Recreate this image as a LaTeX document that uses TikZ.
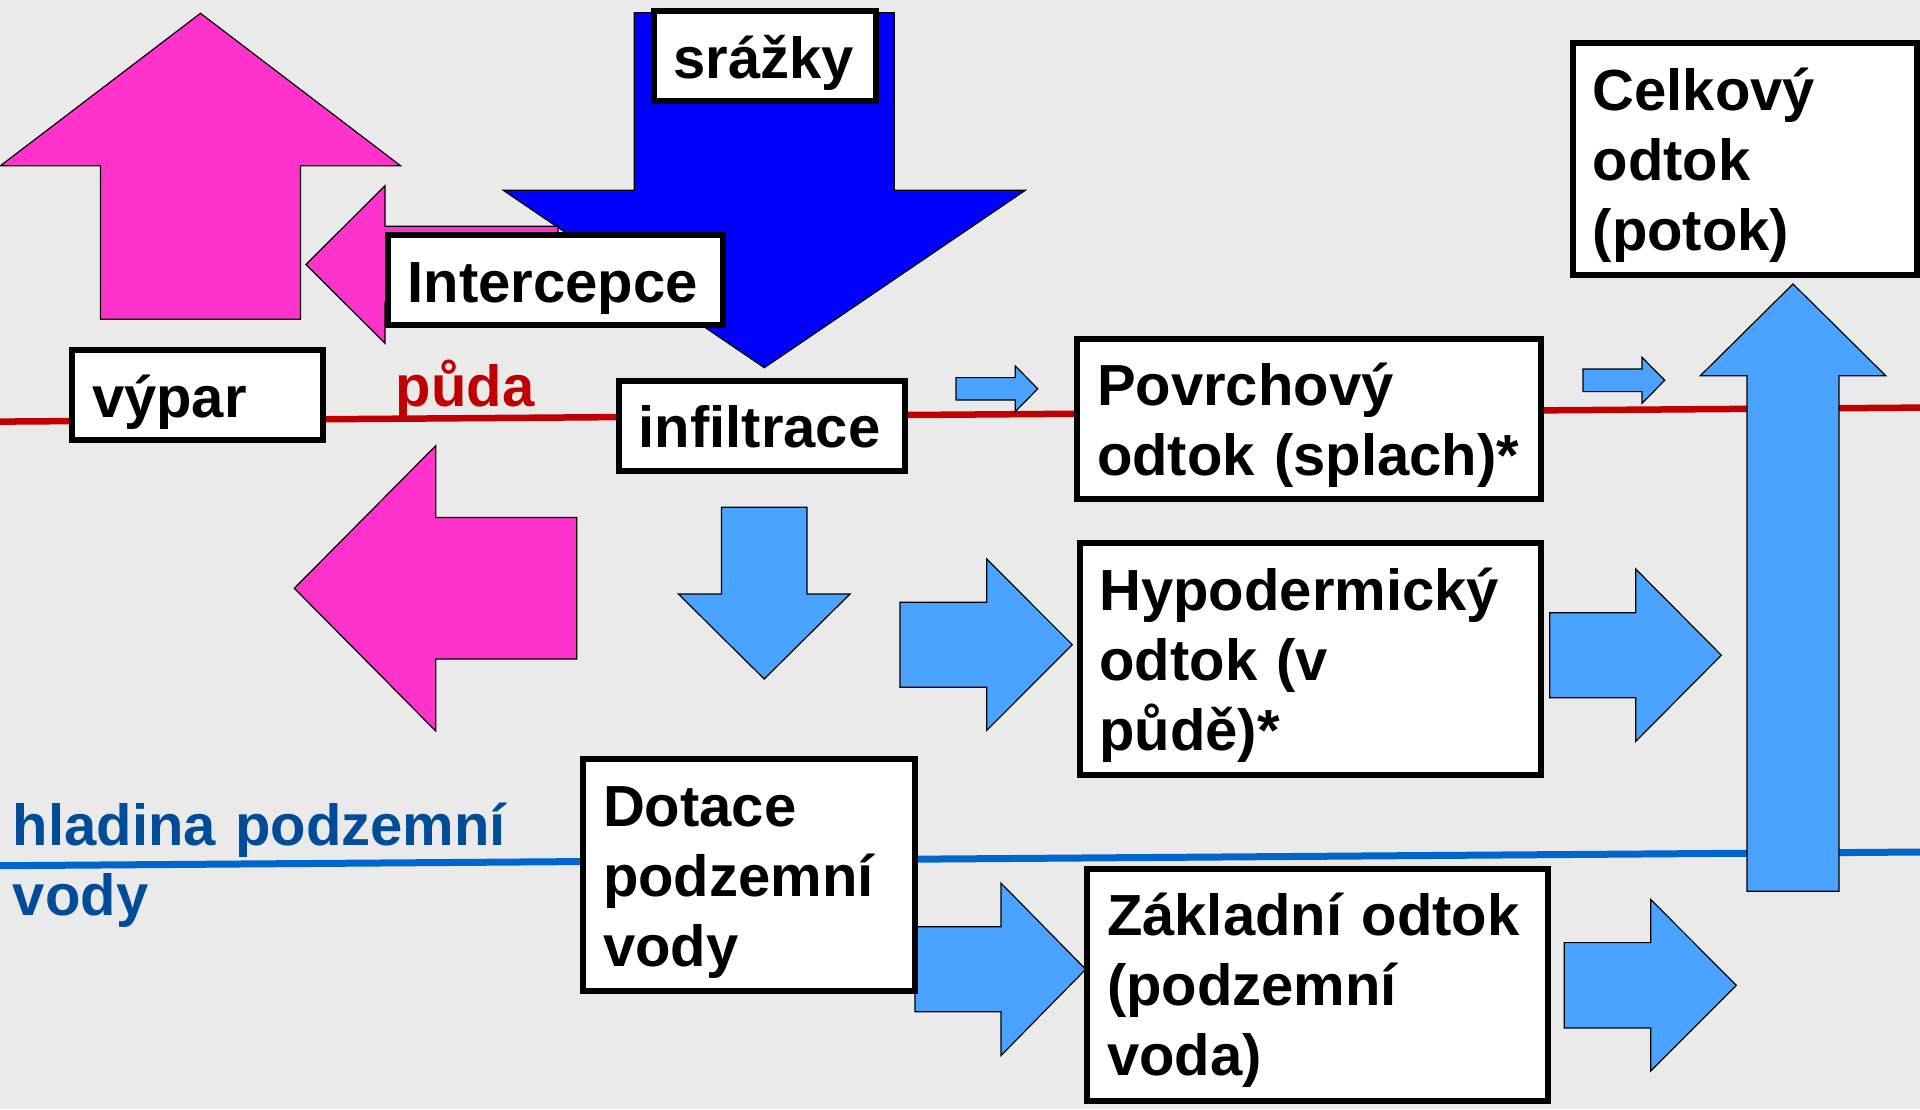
\documentclass[tikz,border=0pt]{standalone}
\usepackage{fontspec}
\setmainfont{Liberation Sans}[Ligatures=NoCommon]
\usepackage{xcolor}
\usepackage{tikz}

\definecolor{bggray}{HTML}{EAEAEA}
\definecolor{evapink}{HTML}{FF33CC}
\definecolor{rainblue}{HTML}{0000FF}
\definecolor{flowblue}{HTML}{4AA3FF}
\definecolor{soilred}{HTML}{C00000}
\definecolor{gwline}{HTML}{0066CC}
\definecolor{gwtext}{HTML}{004C99}

\begin{document}
\begin{tikzpicture}[
    x=0.5pt, y=-0.5pt,
    txtbox/.style={rectangle, draw=black, fill=white, line width=3pt, anchor=north west, inner xsep=9.85pt, inner ysep=0pt, align=left, text height=33.5pt, font=\fontsize{29}{35}\selectfont\bfseries},
    oneline/.style={txtbox, text depth=11.5pt},
    twoline/.style={txtbox, text depth=46.6pt},
    threeline/.style={txtbox, text depth=82.5pt},
    pinkarrow/.style={draw=black, line width=0.6pt, fill=evapink},
    rainarrow/.style={draw=black, line width=0.6pt, fill=rainblue},
    flowarrow/.style={draw=black, line width=0.6pt, fill=flowblue},
    levellabel/.style={anchor=base west, inner sep=0pt, align=left, font=\fontsize{29}{35}\selectfont\bfseries}
]

% Background
\useasboundingbox (0,0) rectangle (1920,1109);
\fill[bggray] (0,0) rectangle (1920,1109);

% Soil surface and groundwater table
\coordinate (soilW) at (0,421.6);
\coordinate (soilE) at (1920,407.6);
\coordinate (gwW) at (0,865.7);
\coordinate (gwE) at (1920,852);
\draw[soilred, line width=3.25pt] (soilW) -- (soilE);
\draw[gwline, line width=3.5pt] (gwW) -- (gwE);

% Precipitation
\draw[rainarrow] (634.3,12.7) -- (894.3,12.7) -- (894.3,190.3) -- (1025.3,190.3) -- (764.3,367.7) -- (503.3,190.3) -- (634.3,190.3) -- cycle;

% Evaporation
\draw[pinkarrow] (100.5,319.3) -- (100.5,165.7) -- (0.5,165.7) -- (200.5,13.3) -- (400.5,165.7) -- (300.5,165.7) -- (300.5,319.3) -- cycle;
\draw[pinkarrow] (558,226.3) -- (385,226.3) -- (385,185.7) -- (306,264.5) -- (385,343.3) -- (385,302.7) -- (558,302.7) -- cycle;
\draw[pinkarrow] (576.7,517.5) -- (435.7,517.5) -- (435.7,445.7) -- (294.3,588.3) -- (435.7,731) -- (435.7,659) -- (576.7,659) -- cycle;

% Runoff components
\draw[flowarrow] (721.4,507.3) -- (807,507.3) -- (807,594) -- (850,594) -- (764.2,679) -- (678.4,594) -- (721.4,594) -- cycle;
\draw[flowarrow] (956,377.6) -- (1015.3,377.6) -- (1015.3,366) -- (1037.7,388.8) -- (1015.3,411.6) -- (1015.3,400) -- (956,400) -- cycle;
\draw[flowarrow] (1583,369) -- (1642,369) -- (1642,357.3) -- (1664.7,380.3) -- (1642,403.3) -- (1642,391.6) -- (1583,391.6) -- cycle;
\draw[flowarrow] (900,602.2) -- (986.7,602.2) -- (986.7,559) -- (1072.3,644.7) -- (986.7,730.4) -- (986.7,687.2) -- (900,687.2) -- cycle;
\draw[flowarrow] (915,926.8) -- (1001,926.8) -- (1001,883.1) -- (1085.7,969.3) -- (1001,1055.5) -- (1001,1011.8) -- (915,1011.8) -- cycle;
\draw[flowarrow] (1549.7,612.7) -- (1635.7,612.7) -- (1635.7,569) -- (1721.3,655.2) -- (1635.7,741.4) -- (1635.7,697.7) -- (1549.7,697.7) -- cycle;
\draw[flowarrow] (1564.3,942.6) -- (1650.7,942.6) -- (1650.7,899.5) -- (1736.3,985.3) -- (1650.7,1071.1) -- (1650.7,1028) -- (1564.3,1028) -- cycle;
\draw[flowarrow] (1747,891.3) -- (1747,375.7) -- (1700.3,375.7) -- (1793,284) -- (1885.7,375.7) -- (1839,375.7) -- (1839,891.3) -- cycle;

% Boxes
\node[oneline, text width=91.45pt] (srazky) at (650.7,8) {srážky};
\node[oneline, text width=147.8pt] (intercepce) at (385,232.3) {Intercepce};
\node[oneline, text width=105.65pt] (vypar) at (69.3,347.3) {výpar};
\node[oneline, text width=123.45pt] (infiltrace) at (616,377.7) {infiltrace};
\node[twoline, text width=212pt] (povrch) at (1074.3,335.7) {Povrchový\\odtok (splach)*};
\node[threeline, text width=210.8pt] (hypo) at (1076.7,540) {Hypodermický\\odtok (v\\půdě)*};
\node[threeline, text width=145.9pt] (dotace) at (580.3,756) {Dotace\\podzemní\\vody};
\node[threeline, text width=210.5pt] (zakladni) at (1084.3,865.7) {Základní odtok\\(podzemní\\voda)};
\node[threeline, text width=152.15pt] (celkovy) at (1570,40) {Celkový\\odtok\\(potok)};

% Level labels
\node[levellabel, soilred] (puda) at (395.5,406) {půda};
\node[levellabel, gwtext, text width=260pt] (hladina) at (12.5,845.7) {hladina podzemní\\vody};

\end{tikzpicture}
\end{document}
